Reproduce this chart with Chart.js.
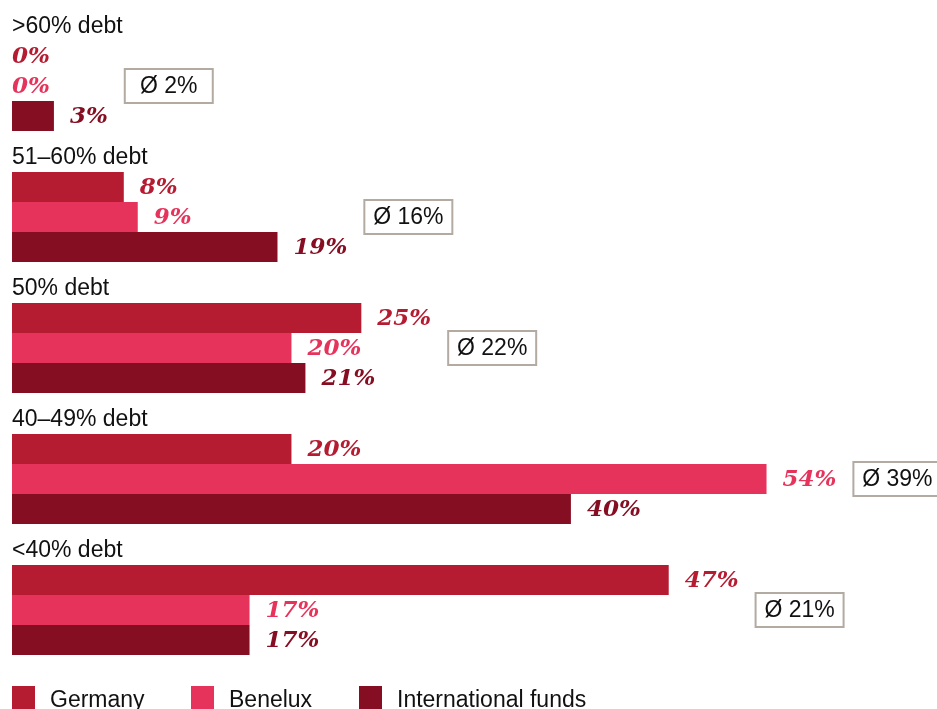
<!DOCTYPE html>
<html>
<head>
<meta charset="utf-8">
<script src="https://cdn.jsdelivr.net/npm/chart.js@4/dist/chart.umd.min.js"></script>
<style>
  html, body { margin: 0; padding: 0; background: #ffffff; overflow: hidden; }
  canvas { display: block; }
</style>
</head>
<body>
<canvas id="debtChart" width="937" height="709"></canvas>
<script>
// Debt ratio bands
const groups = [">60% debt", "51–60% debt", "50% debt", "40–49% debt", "<40% debt"];

// Share of funds per band (%)
const germany = [0, 8, 25, 20, 47];
const benelux = [0, 9, 20, 54, 17];
const international = [3, 19, 21, 40, 17];

// Overall average per band (%)
const averages = [2, 16, 22, 39, 21];

const seriesNames = ["Germany", "Benelux", "International funds"];
const seriesColors = ["#b51b31", "#e6335b", "#850e22"];

const SANS = '"Liberation Sans", Arial, Helvetica, sans-serif';
const SERIF = '"DejaVu Serif", Georgia, serif';

const annotations = {
  id: "annotations",
  afterDatasetsDraw(chart) {
    const ctx = chart.ctx;
    const xs = chart.scales.x;
    ctx.save();

    const pct = v => v + "%";

    groups.forEach((g, gi) => {
      const metas = chart.data.datasets.map((d, di) => chart.getDatasetMeta(di));
      const firstBar = metas[0].data[gi];
      const topY = firstBar.y - firstBar.height / 2;

      // band title above the bars
      ctx.font = "23px " + SANS;
      ctx.fillStyle = "#111111";
      ctx.textAlign = "left";
      ctx.textBaseline = "alphabetic";
      ctx.fillText(g, 12, topY - 8);

      // value labels at the end of each bar
      let maxEnd = 0;
      ctx.font = "italic bold 23px " + SERIF;
      ctx.textBaseline = "middle";
      chart.data.datasets.forEach((ds, di) => {
        const bar = metas[di].data[gi];
        const v = ds.data[gi];
        const end = xs.getPixelForValue(v);
        const x = v > 0 ? end + 16 : end;
        ctx.fillStyle = seriesColors[di];
        const txt = pct(v);
        ctx.fillText(txt, x, bar.y + 1);
        maxEnd = Math.max(maxEnd, x + ctx.measureText(txt).width);
      });

      // average box beside the middle bar
      const mid = metas[1].data[gi];
      const bw = 90, bh = 36;
      const bx = maxEnd + 16;
      const by = mid.y - bh / 2;
      ctx.fillStyle = "#ffffff";
      ctx.fillRect(bx, by, bw, bh);
      ctx.strokeStyle = "#b3aaa2";
      ctx.lineWidth = 2;
      ctx.strokeRect(bx + 1, by + 1, bw - 2, bh - 2);
      ctx.fillStyle = "#111111";
      ctx.font = "23px " + SANS;
      ctx.textAlign = "center";
      ctx.textBaseline = "middle";
      ctx.fillText("Ø " + pct(averages[gi]), bx + bw / 2, mid.y + 1);
      ctx.textAlign = "left";
    });

    // legend along the bottom
    const legendX = [12, 191, 359];
    seriesNames.forEach((name, i) => {
      ctx.fillStyle = seriesColors[i];
      ctx.fillRect(legendX[i], 686, 23, 23);
      ctx.fillStyle = "#111111";
      ctx.font = "23px " + SANS;
      ctx.textBaseline = "alphabetic";
      ctx.fillText(name, legendX[i] + 38, 707);
    });

    ctx.restore();
  }
};

new Chart(document.getElementById("debtChart"), {
  type: "bar",
  data: {
    labels: groups,
    datasets: [
      { label: seriesNames[0], data: germany, backgroundColor: seriesColors[0] },
      { label: seriesNames[1], data: benelux, backgroundColor: seriesColors[1] },
      { label: seriesNames[2], data: international, backgroundColor: seriesColors[2] }
    ]
  },
  options: {
    indexAxis: "y",
    responsive: false,
    animation: false,
    datasets: {
      bar: { categoryPercentage: 90 / 131, barPercentage: 1, borderWidth: 0 }
    },
    layout: { padding: { top: 20.5, bottom: 33.5, left: 12, right: 0 } },
    scales: {
      x: { display: false, min: 0, max: 66.2 },
      y: { display: false }
    },
    plugins: {
      legend: { display: false },
      tooltip: { enabled: false }
    }
  },
  plugins: [annotations]
});
</script>
</body>
</html>
